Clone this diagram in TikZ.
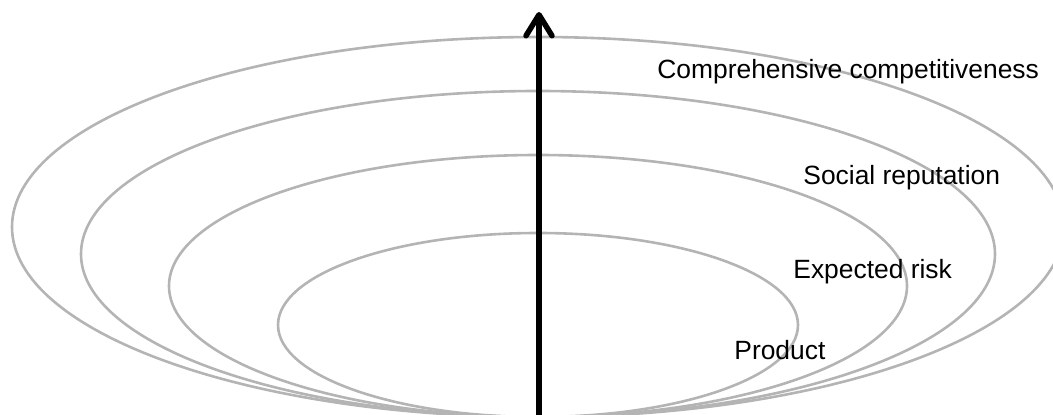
\documentclass[tikz,border=0pt]{standalone}
\usepackage{fontspec}
\setmainfont{Liberation Sans}
\usepackage{xcolor}
\usepackage{tikz}
\usetikzlibrary{arrows.meta, positioning}
\definecolor{RingGray}{HTML}{B4B4B4}
\definecolor{AxisBlack}{HTML}{000000}

\begin{document}
\begin{tikzpicture}[x=1pt, y=1pt, thick,
    ring/.style={draw=RingGray, line width=2.6pt},
    level/.style={anchor=base west, inner sep=0pt, font=\fontsize{26.4}{30}\selectfont}]
        \useasboundingbox (0,0) rectangle (1053,415);

        % Rings
        \draw[ring] (538,188) ellipse [x radius=526, y radius=190];
        \draw[ring] (538,161) ellipse [x radius=457, y radius=163];
        \draw[ring] (538,129) ellipse [x radius=369, y radius=131];
        \draw[ring] (538,90) ellipse [x radius=260, y radius=92];

        % Labels
        \node[level] (comp) at (657,336.7) {Comprehensive competitiveness};
        \node[level] (social) at (803,230.7) {Social reputation};
        \node[level] (risk) at (793,136.7) {Expected risk};
        \node[level] (product) at (734,55.7) {Product};

        % Axis
        \coordinate (base) at (539,-5);
        \coordinate (tip) at (539,403);
        \draw[-{Straight Barb[round, length=21pt, width=26pt]}, AxisBlack, line width=5.5pt] (base) -- (tip);
    \end{tikzpicture}
\end{document}
